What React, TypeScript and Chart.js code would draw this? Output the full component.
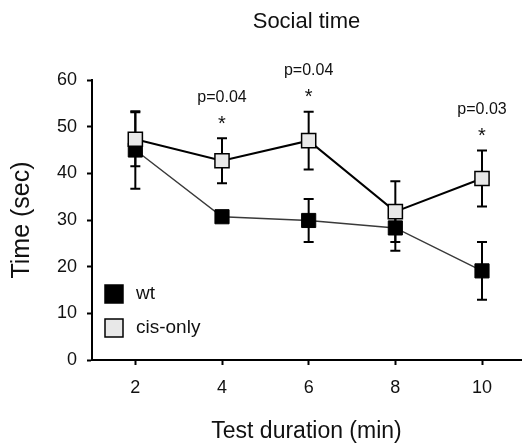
import React, { useEffect, useRef } from 'react';
import { Chart, registerables } from 'chart.js';

Chart.register(...registerables);

const FONT = '"Liberation Sans", Arial, Helvetica, sans-serif';

const durations = [2, 4, 6, 8, 10];
const xTicks = [2, 4, 6, 8, 10];
const yTicks = [0, 10, 20, 30, 40, 50, 60];

const wtMeans = [45.0, 30.7, 29.9, 28.3, 19.1];
const wtErrors = [8.3, 1.0, 4.6, 4.9, 6.2];
const cisMeans = [47.3, 42.7, 47.0, 31.8, 38.9];
const cisErrors = [5.8, 4.8, 6.2, 6.5, 6.0];

const sigMinutes = [4, 6, 10];
const sigLabels = ['p=0.04', 'p=0.04', 'p=0.03'];

const seriesNames = ['wt', 'cis-only'];

const errorBarPlugin = {
  id: 'errorBars',
  beforeDatasetsDraw(chart: any) {
    const { ctx } = chart;
    const xs = chart.scales.x;
    const ys = chart.scales.y;
    chart.data.datasets.forEach((ds: any) => {
      const errs: number[] = ds.errors;
      if (!errs) return;
      ctx.save();
      ctx.strokeStyle = '#000';
      ctx.lineWidth = 2;
      ds.data.forEach((pt: any, i: number) => {
        const px = xs.getPixelForValue(pt.x);
        const top = ys.getPixelForValue(pt.y + errs[i]);
        const bot = ys.getPixelForValue(pt.y - errs[i]);
        ctx.beginPath();
        ctx.moveTo(px, top);
        ctx.lineTo(px, bot);
        ctx.moveTo(px - 5, top);
        ctx.lineTo(px + 5, top);
        ctx.moveTo(px - 5, bot);
        ctx.lineTo(px + 5, bot);
        ctx.stroke();
      });
      ctx.restore();
    });
  },
};

const annotationPlugin = {
  id: 'sigAnnotations',
  afterDatasetsDraw(chart: any) {
    const { ctx } = chart;
    const xs = chart.scales.x;
    const ys = chart.scales.y;
    ctx.save();
    ctx.fillStyle = '#111';
    ctx.textAlign = 'center';
    ctx.textBaseline = 'middle';
    sigMinutes.forEach((m, k) => {
      const idx = durations.indexOf(m);
      const topVal = cisMeans[idx] + cisErrors[idx];
      const px = xs.getPixelForValue(m);
      const py = ys.getPixelForValue(topVal);
      ctx.font = `20px ${FONT}`;
      ctx.fillText('*', px, py - 14);
      ctx.font = `16px ${FONT}`;
      ctx.fillText(sigLabels[k], px, py - 41);
    });
    ctx.restore();
  },
};

const legendPlugin = {
  id: 'insideLegend',
  afterDraw(chart: any) {
    const { ctx, chartArea } = chart;
    const bx = chartArea.left + 13;
    const rows = [
      { y: chartArea.bottom - 75, fill: '#000', name: seriesNames[0] },
      { y: chartArea.bottom - 41, fill: '#e8e8e8', name: seriesNames[1] },
    ];
    ctx.save();
    rows.forEach((r) => {
      ctx.fillStyle = r.fill;
      ctx.fillRect(bx, r.y, 18, 18);
      ctx.strokeStyle = '#000';
      ctx.lineWidth = 1.5;
      ctx.strokeRect(bx, r.y, 18, 18);
      ctx.fillStyle = '#111';
      ctx.font = `19px ${FONT}`;
      ctx.textAlign = 'left';
      ctx.textBaseline = 'middle';
      ctx.fillText(r.name, bx + 31, r.y + 9);
    });
    ctx.restore();
  },
};

export default function App() {
  const ref = useRef<HTMLCanvasElement>(null);

  useEffect(() => {
    if (!ref.current) return;
    const chart = new Chart(ref.current, {
      type: 'line',
      data: {
        datasets: [
          {
            label: seriesNames[1],
            data: durations.map((d, i) => ({ x: d, y: cisMeans[i] })),
            errors: cisErrors,
            borderColor: '#000',
            borderWidth: 2,
            pointStyle: 'rect',
            pointRadius: 10,
            pointHoverRadius: 10,
            pointBackgroundColor: '#e8e8e8',
            pointBorderColor: '#000',
            pointBorderWidth: 1.5,
            fill: false,
            tension: 0,
          } as any,
          {
            label: seriesNames[0],
            data: durations.map((d, i) => ({ x: d, y: wtMeans[i] })),
            errors: wtErrors,
            borderColor: '#3a3a3a',
            borderWidth: 1.5,
            pointStyle: 'rect',
            pointRadius: 10,
            pointHoverRadius: 10,
            pointBackgroundColor: '#000',
            pointBorderColor: '#000',
            pointBorderWidth: 1,
            fill: false,
            tension: 0,
          } as any,
        ],
      },
      options: {
        animation: false,
        responsive: false,
        devicePixelRatio: 1,
        events: [],
        layout: { padding: { left: 0, right: 3, top: 0, bottom: 0 } },
        plugins: {
          legend: { display: false },
          tooltip: { enabled: false },
          title: {
            display: true,
            text: 'Social time',
            fullSize: false,
            color: '#111',
            font: { family: FONT, size: 22, weight: 'normal', lineHeight: 1.2 },
            padding: { top: 9, bottom: 44.6 },
          },
        },
        scales: {
          x: {
            type: 'linear',
            min: 1,
            max: 10.9,
            afterBuildTicks: (s: any) => {
              s.ticks = xTicks.map((v) => ({ value: v }));
            },
            afterFit: (s: any) => {
              s.height = 83;
              s.paddingLeft = 0;
              s.paddingRight = 0;
            },
            grid: {
              display: true,
              drawOnChartArea: false,
              drawTicks: true,
              tickLength: 5,
              tickWidth: 2,
              tickColor: '#000',
            },
            border: { display: true, color: '#000', width: 2 },
            ticks: {
              color: '#111',
              font: { family: FONT, size: 18 },
              padding: 12,
              maxRotation: 0,
            },
            title: {
              display: true,
              text: 'Test duration (min)',
              color: '#111',
              font: { family: FONT, size: 23, lineHeight: 1 },
              padding: { top: 0, bottom: 0 },
            },
          },
          y: {
            type: 'linear',
            min: 0,
            max: 60,
            afterBuildTicks: (s: any) => {
              s.ticks = yTicks.map((v) => ({ value: v }));
            },
            afterFit: (s: any) => {
              s.width = 92;
            },
            grid: {
              display: true,
              drawOnChartArea: false,
              drawTicks: true,
              tickLength: 5,
              tickWidth: 2,
              tickColor: '#000',
            },
            border: { display: true, color: '#000', width: 2 },
            ticks: {
              color: '#111',
              font: { family: FONT, size: 18 },
              padding: 10,
            },
            title: {
              display: true,
              text: 'Time (sec)',
              color: '#111',
              font: { family: FONT, size: 25, lineHeight: 1 },
              padding: { top: 10, bottom: 0 },
            },
          },
        },
      },
      plugins: [errorBarPlugin, annotationPlugin, legendPlugin],
    } as any);
    // markers may overhang the plot edge, as in the reference, so no extra inset for them
    chart.data.datasets.forEach((_d: any, i: number) => {
      const ctrl: any = chart.getDatasetMeta(i).controller;
      ctrl.getMaxOverflow = () => 0;
    });
    chart.update();
    return () => chart.destroy();
  }, []);

  return (
    <div style={{ position: 'absolute', left: 0, top: 0, width: 524, height: 443, background: '#fff' }}>
      <canvas ref={ref} width={524} height={443} />
    </div>
  );
}
